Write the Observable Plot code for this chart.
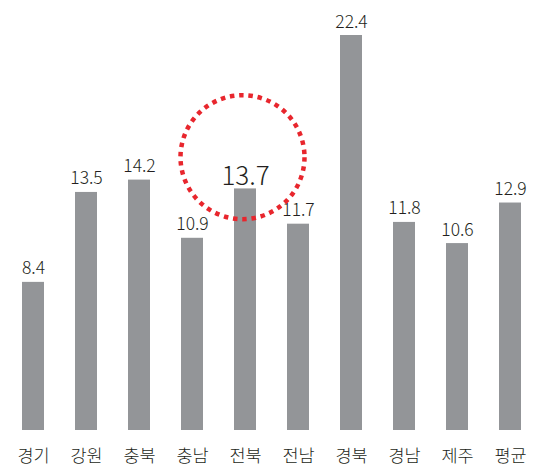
<!DOCTYPE html>
<html><head><meta charset="utf-8">
<script src="https://cdn.jsdelivr.net/npm/d3@7"></script>
<script src="https://cdn.jsdelivr.net/npm/@observablehq/plot@0.6"></script>
<style>body{margin:0;background:#fff;} svg{display:block;}</style>
</head><body><div id="chart"></div>
<script>
const regions = ["경기","강원","충북","충남","전북","전남","경북","경남","제주","평균"];
const values = [8.4, 13.5, 14.2, 10.9, 13.7, 11.7, 22.4, 11.8, 10.6, 12.9];
const highlightRegion = "전북";
const highlightCenter = 15.5;

const data = regions.map((r, i) => ({region: r, value: values[i], hi: r === highlightRegion}));
const font = "'Noto Sans CJK KR', 'Noto Sans', sans-serif";

const chart = Plot.plot({
  width: 539, height: 470,
  marginLeft: 20, marginRight: 16, marginTop: 35, marginBottom: 40,
  style: {fontFamily: font, background: "#fff"},
  x: {domain: regions, paddingInner: 0.588, paddingOuter: 0, label: null, axis: null},
  y: {domain: [0, 22.4], axis: null},
  marks: [
    Plot.barY(data, {x: "region", y: "value", fill: "#939598"}),
    Plot.text(data, {x: "region", frameAnchor: "bottom", text: "region", lineAnchor: "top", dy: 19, fontSize: 17.5, fontWeight: 300, fill: "#231f20"}),
    Plot.text(data.filter(d => !d.hi), {x: "region", y: "value", text: d => d.value.toFixed(1), lineAnchor: "bottom", dy: -8, fontSize: 17.5, fontWeight: 300, fill: "#231f20"}),
    Plot.text(data.filter(d => d.hi), {x: "region", y: "value", text: d => d.value.toFixed(1), lineAnchor: "bottom", dy: -4, fontSize: 26, fontWeight: 300, fill: "#231f20"}),
    Plot.dot([{region: highlightRegion, y: highlightCenter}], {x: "region", y: "y", r: 62, dx: -3, stroke: "#e8262d", strokeWidth: 4.5, strokeDasharray: "4.5 4.8", fill: "none"})
  ]
});
document.getElementById("chart").appendChild(chart);
</script></body></html>
